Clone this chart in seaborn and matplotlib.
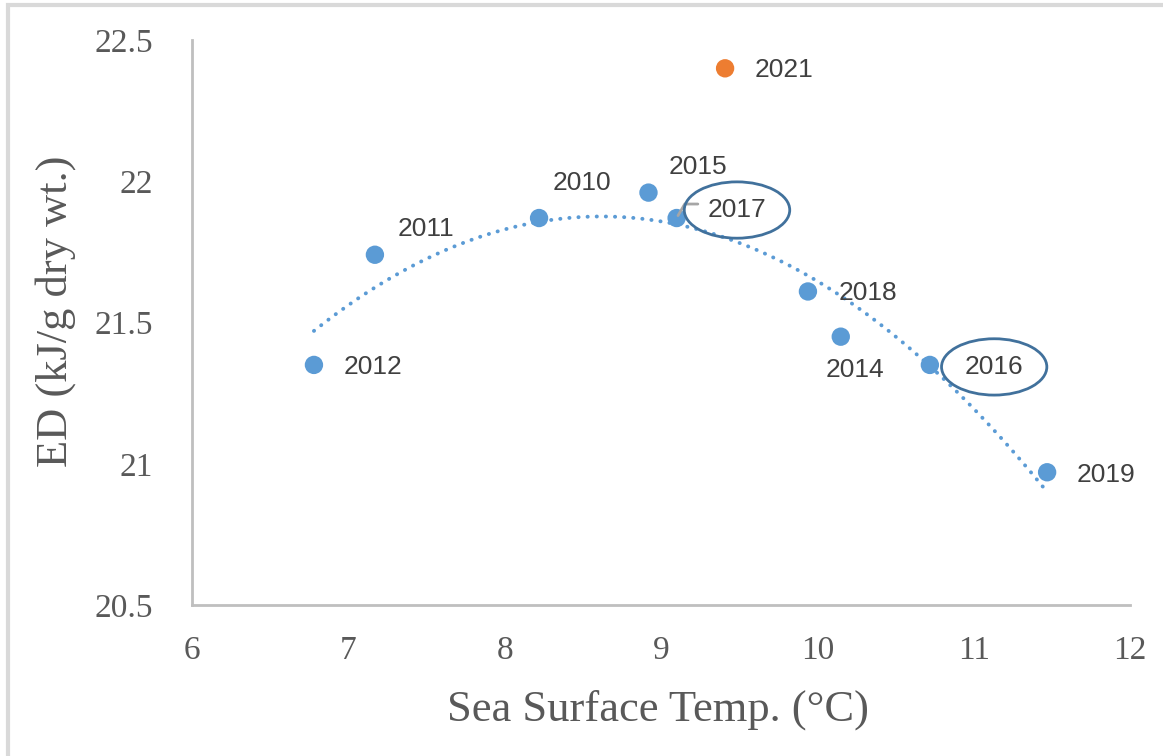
import numpy as np
import pandas as pd
import matplotlib
matplotlib.use("Agg")
import matplotlib.pyplot as plt
from matplotlib.patches import Rectangle
import seaborn as sns

# values
years = ["2012", "2011", "2010", "2015", "2017", "2018", "2014", "2016", "2019", "2021"]
sst = [6.78, 7.17, 8.22, 8.92, 9.10, 9.94, 10.15, 10.72, 11.47, 9.41]
ed = [21.35, 21.74, 21.87, 21.96, 21.87, 21.61, 21.45, 21.35, 20.97, 22.40]
group = ["fit"] * 9 + ["2021"]

xticks = [6, 7, 8, 9, 10, 11, 12]
yticks = [20.5, 21, 21.5, 22, 22.5]
ytick_labels = ["20.5", "21", "21.5", "22", "22.5"]

df = pd.DataFrame({"year": years, "sst": sst, "ed": ed, "group": group})

# label offsets in pixels (dx, dy, ha)
label_pos = {
    "2012": (30, -2, "left"), "2011": (23, 26, "left"), "2010": (14, 35, "left"),
    "2015": (20, 26, "left"), "2017": (31, 8, "left"), "2021": (30, -2, "left"),
    "2018": (31, -2, "left"), "2014": (14, -33, "center"), "2016": (35, -2, "left"),
    "2019": (30, -3, "left"),
}
circled = ["2016", "2017"]

sns.set_theme(style="white")
plt.rcParams["font.family"] = ["Liberation Serif", "DejaVu Serif"]

fig = plt.figure(figsize=(11.63, 7.56), dpi=100)
ax = fig.add_axes([0.1651, 0.1997, 0.8065, 0.7473])

blue = "#5B9BD5"
orange = "#ED7D31"
sns.scatterplot(data=df, x="sst", y="ed", hue="group",
                palette={"fit": blue, "2021": orange}, s=175,
                edgecolor="none", legend=False, ax=ax, zorder=3)

# 2nd order polynomial trendline over the blue points
fit = df[df.group == "fit"]
coef = np.polyfit(fit.sst, fit.ed, 2)
xs = np.linspace(fit.sst.min(), fit.sst.max(), 200)
ax.plot(xs, np.polyval(coef, xs), color=blue, lw=2.8,
        linestyle=(0, (0.05, 2.3)), dash_capstyle="round", zorder=2)

for _, r in df.iterrows():
    dx, dy, ha = label_pos[r.year]
    kw = {}
    if r.year in circled:
        kw["bbox"] = dict(boxstyle="ellipse,pad=0.3", fc="none", ec="#41719C", lw=2)
    ax.annotate(r.year, (r.sst, r.ed), xytext=(dx, dy), textcoords="offset pixels",
                ha=ha, va="center", fontsize=19, color="#404040",
                family=["Liberation Sans", "DejaVu Sans"], zorder=4, **kw)

# small leader line for 2017
r17 = df[df.year == "2017"].iloc[0]
ax.annotate("", (r17.sst, r17.ed), xytext=(24, 14), textcoords="offset pixels",
            arrowprops=dict(arrowstyle="-", color="#A6A6A6", lw=2,
                            connectionstyle="angle,angleA=0,angleB=60,rad=0"))

ax.set_xlim(6, 12)
ax.set_ylim(20.5, 22.5)
ax.set_xticks(xticks)
ax.set_yticks(yticks)
ax.set_yticklabels(ytick_labels)
ax.tick_params(axis="both", length=0, labelsize=24, labelcolor="#595959")
ax.tick_params(axis="x", pad=22)
ax.tick_params(axis="y", pad=28)
for side in ["top", "right"]:
    ax.spines[side].set_visible(False)
for side in ["left", "bottom"]:
    ax.spines[side].set_color("#BFBFBF")
    ax.spines[side].set_linewidth(2)

ax.set_xlabel("Sea Surface Temp. (°C)", fontsize=32, color="#595959", va="center")
ax.set_ylabel("ED (kJ/g dry wt.)", fontsize=32, color="#595959", va="center")
ax.xaxis.set_label_coords(0.497, -0.186)
ax.yaxis.set_label_coords(-0.146, 0.52)

# light frame around the chart area
fig.patches.append(Rectangle((8 / 1163, -0.1), 1.2, 1.1 - 5 / 756, transform=fig.transFigure,
                             fill=False, ec="#D9D9D9", lw=3))

fig.savefig("out.png", dpi=100)
